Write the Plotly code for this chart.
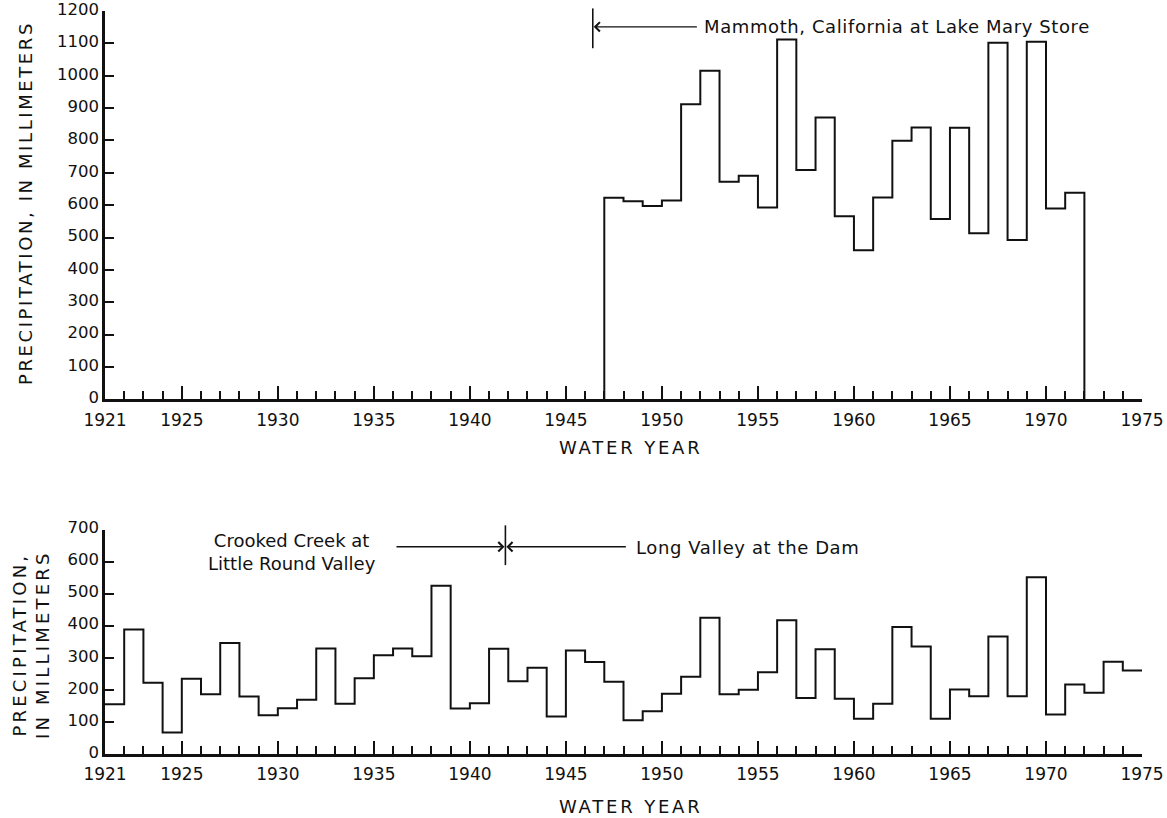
import plotly.graph_objects as go

# ---------------- data ----------------
# Mammoth, California at Lake Mary Store: bar spans [start_year, start_year+1]
mammoth_start_years = list(range(1947, 1972))
mammoth_precip_mm = [623, 612, 597, 614, 912, 1015, 672, 691, 593, 1112,
                     709, 871, 566, 461, 624, 799, 840, 557, 839, 513,
                     1102, 492, 1105, 590, 638]

# Crooked Creek at Little Round Valley (to ~1941.8) / Long Valley at the Dam
long_valley_start_years = list(range(1921, 1975))
long_valley_precip_mm = [155, 388, 222, 67, 235, 186, 346, 179, 121, 143,
                         169, 329, 157, 236, 308, 329, 305, 525, 142, 158,
                         328, 227, 269, 117, 323, 287, 225, 105, 133, 188,
                         241, 425, 186, 200, 255, 417, 175, 327, 172, 110,
                         157, 396, 335, 110, 201, 180, 366, 180, 551, 123,
                         217, 191, 288, 260]

year_ticks = [1921, 1925, 1930, 1935, 1940, 1945, 1950, 1955, 1960, 1965, 1970, 1975]

top_label = "Mammoth, California at Lake Mary Store"
bottom_left_label = "Crooked Creek at<br>Little Round Valley"
bottom_right_label = "Long Valley at the Dam"
x_title = "WATER YEAR"
y_title_top = "PRECIPITATION, IN MILLIMETERS"
y_title_bottom = "PRECIPITATION,<br>IN MILLIMETERS"
station_change_year_top = 1946.4
station_change_year_bottom = 1941.85

# ---------------- styling ----------------
W, H = 1167, 818
ML, MR, MT, MB = 105, 25, 11, 64
FONT = "DejaVu Sans"
BLACK = "#111111"

def spaced(txt, px):
    return f'<span style="letter-spacing:{px}px">{txt}</span>'

# step outlines built from the data
top_x = [mammoth_start_years[0]] + mammoth_start_years + [mammoth_start_years[-1] + 1, mammoth_start_years[-1] + 1]
top_y = [0] + mammoth_precip_mm + [mammoth_precip_mm[-1], 0]

bot_x = long_valley_start_years + [long_valley_start_years[-1] + 1]
bot_y = long_valley_precip_mm + [long_valley_precip_mm[-1]]

fig = go.Figure()
fig.add_trace(go.Scatter(x=top_x, y=top_y, mode="lines", line=dict(shape="hv", color=BLACK, width=2),
                         xaxis="x", yaxis="y", showlegend=False, hoverinfo="skip"))
fig.add_trace(go.Scatter(x=bot_x, y=bot_y, mode="lines", line=dict(shape="hv", color=BLACK, width=2),
                         xaxis="x2", yaxis="y2", showlegend=False, hoverinfo="skip"))

plot_h = H - MT - MB
top_dom = [(H - MB - 399.3) / plot_h, 1.0]
bot_dom = [0.0, (H - MB - 529.5) / plot_h]

xtickfont = dict(family=FONT, size=17, color=BLACK)
ytickfont = dict(family=FONT, size=16.5, color=BLACK)

def xaxis_cfg(anchor):
    return dict(range=[1921, 1975], tickvals=year_ticks, ticktext=[str(t) for t in year_ticks],
                ticks="inside", ticklen=13, tickwidth=1.6, tickcolor=BLACK,
                minor=dict(ticks="inside", dtick=1, tick0=1921, ticklen=8, tickwidth=1.6,
                           tickcolor=BLACK, showgrid=False),
                showline=True, linewidth=3, linecolor=BLACK, showgrid=False, zeroline=False,
                tickfont=xtickfont, anchor=anchor, domain=[0, 1], fixedrange=True,
                automargin=False, ticklabelstandoff=3, ticklabeloverflow="allow")

def yaxis_cfg(rng, dom, anchor):
    return dict(range=rng, dtick=100, tick0=0, ticks="inside", ticklen=9, tickwidth=1.6, tickcolor=BLACK,
                showline=True, linewidth=2.5, linecolor=BLACK, showgrid=False, zeroline=False,
                tickfont=ytickfont, domain=dom, anchor=anchor, fixedrange=True, automargin=False,
                ticklabelshift=-2, ticklabeloverflow="allow")

def yaxis_right_cfg(rng, over, anchor):
    return dict(range=rng, dtick=100, tick0=0, ticks="inside", ticklen=11, tickwidth=1.6, tickcolor=BLACK,
                showline=True, linewidth=2.5, linecolor=BLACK, showgrid=False, zeroline=False,
                showticklabels=False, overlaying=over, side="right", anchor=anchor, fixedrange=True,
                automargin=False)

fig.update_layout(
    width=W, height=H,
    margin=dict(l=ML, r=MR, t=MT, b=MB, autoexpand=False),
    paper_bgcolor="white", plot_bgcolor="white",
    font=dict(family=FONT, color=BLACK),
    xaxis=xaxis_cfg("y"),
    yaxis=yaxis_cfg([0, 1200], top_dom, "x"),
    yaxis3=yaxis_right_cfg([0, 1200], "y", "x"),
    xaxis2=xaxis_cfg("y2"),
    yaxis2=yaxis_cfg([0, 700], bot_dom, "x2"),
    yaxis4=yaxis_right_cfg([0, 700], "y2", "x2"),
)

def px_x(px):
    return (px - ML) / (W - ML - MR)

def px_y(py):
    return (H - MB - py) / plot_h

ann = []
txtfont = dict(family=FONT, size=18, color=BLACK)
titlefont = dict(family=FONT, size=18, color=BLACK)
# axis titles
for cy in (447, 806):
    ann.append(dict(text=spaced(x_title, 2.8), xref="paper", yref="paper", x=px_x(631), y=px_y(cy),
                    xanchor="center", yanchor="middle", showarrow=False, font=titlefont))
ann.append(dict(text=spaced(y_title_top, 2.6), xref="paper", yref="paper", x=px_x(25), y=px_y(203),
                xanchor="center", yanchor="middle", textangle=-90, showarrow=False, font=titlefont))
ann.append(dict(text=spaced(y_title_bottom, 3.2), xref="paper", yref="paper", x=px_x(31), y=px_y(645),
                xanchor="center", yanchor="middle", textangle=-90, showarrow=False, font=titlefont))

# top station annotation
ann.append(dict(text="", x=station_change_year_top + 0.05, y=1151, xref="x", yref="y",
                ax=1951.9, ay=1151, axref="x", ayref="y", showarrow=True,
                arrowhead=4, arrowsize=1.3, arrowwidth=1.4, arrowcolor=BLACK, standoff=0))
ann.append(dict(text=spaced(top_label, 0.6), x=1952.1, y=1151, xref="x", yref="y", xanchor="left",
                yanchor="middle", showarrow=False, font=txtfont))

# bottom station annotations
ann.append(dict(text="", x=station_change_year_bottom - 0.05, y=646, xref="x2", yref="y2",
                ax=1936.1, ay=646, axref="x2", ayref="y2", showarrow=True,
                arrowhead=4, arrowsize=1.3, arrowwidth=1.4, arrowcolor=BLACK, standoff=0))
ann.append(dict(text="", x=station_change_year_bottom + 0.05, y=646, xref="x2", yref="y2",
                ax=1948.2, ay=646, axref="x2", ayref="y2", showarrow=True,
                arrowhead=4, arrowsize=1.3, arrowwidth=1.4, arrowcolor=BLACK, standoff=0))
ann.append(dict(text=bottom_left_label, x=1930.75, y=631, xref="x2", yref="y2", xanchor="center",
                yanchor="middle", showarrow=False, font=txtfont, align="center"))
ann.append(dict(text=spaced(bottom_right_label, 0.6), x=1948.55, y=643, xref="x2", yref="y2", xanchor="left",
                yanchor="middle", showarrow=False, font=txtfont))
fig.update_layout(annotations=ann)

# vertical station-change markers
fig.add_shape(type="line", xref="x", yref="y domain", x0=station_change_year_top, x1=station_change_year_top,
              y0=1085 / 1200, y1=1208 / 1200, line=dict(color=BLACK, width=1.6))
fig.add_shape(type="line", xref="x2", yref="y2 domain", x0=station_change_year_bottom, x1=station_change_year_bottom,
              y0=589 / 700, y1=713 / 700, line=dict(color=BLACK, width=1.6))

fig.write_html("out.html")
